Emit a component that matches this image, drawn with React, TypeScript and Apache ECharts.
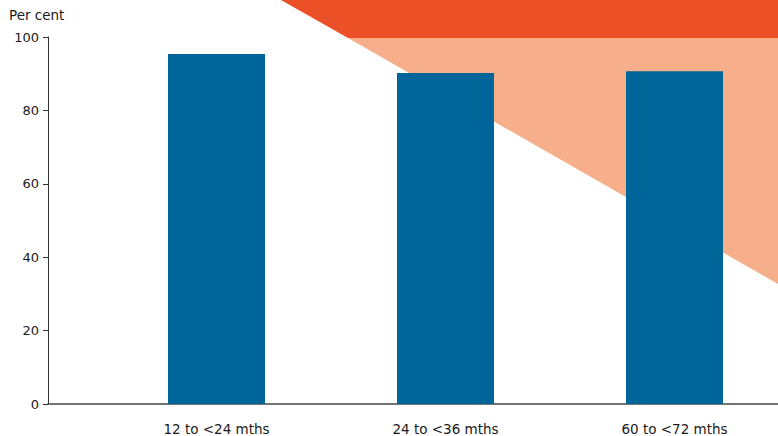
import React, { useEffect, useRef } from "react";
import * as echarts from "echarts";

const categories = ["12 to <24 mths", "24 to <36 mths", "60 to <72 mths"];
const positions = [1, 2, 3];
const values = [95.4, 90.2, 90.7];
const yTicks = [0, 20, 40, 60, 80, 100];

export default function App() {
  const ref = useRef<HTMLDivElement>(null);
  useEffect(() => {
    if (!ref.current) return;
    const chart = echarts.init(ref.current, null, { renderer: "svg" });
    const font = "'DejaVu Sans', sans-serif";
    chart.setOption({
      animation: false,
      backgroundColor: "#ffffff",
      title: {
        text: "Per cent",
        left: 4,
        top: 3,
        textStyle: { fontFamily: font, fontSize: 13.5, fontWeight: "normal", color: "#1a1a1a" },
      },
      graphic: [
        {
          type: "polygon",
          z: -10,
          shape: { points: [[281, 0], [778, 0], [778, 38], [348, 38]] },
          style: { fill: "#EB5026" },
          silent: true,
        },
        {
          type: "polygon",
          z: -10,
          shape: { points: [[348, 38], [778, 38], [778, 284]] },
          style: { fill: "#F7AF8B" },
          silent: true,
        },
      ],
      grid: { left: 48, right: 0, top: 37, bottom: 32, containLabel: false },
      xAxis: {
        type: "value",
        min: 0.2642,
        max: 3.452,
        splitLine: { show: false },
        axisTick: { show: false },
        axisLine: { show: true, lineStyle: { color: "#444", width: 1.5 } },
        axisLabel: {
          customValues: positions,
          formatter: (v: number) => categories[positions.indexOf(Math.round(v))] ?? "",
          fontFamily: font,
          fontSize: 13.5,
          color: "#1a1a1a",
          margin: 18,
          showMinLabel: true,
          showMaxLabel: true,
        },
      },
      yAxis: {
        type: "value",
        min: 0,
        max: 100,
        interval: 20,
        splitLine: { show: false },
        axisLine: { show: true, lineStyle: { color: "#333", width: 1 } },
        axisTick: { show: true, length: 5, lineStyle: { color: "#333" } },
        axisLabel: {
          fontFamily: font,
          fontSize: 13,
          color: "#1a1a1a",
          margin: 9,
          formatter: (v: number) => (yTicks.includes(v) ? String(v) : ""),
        },
      },
      series: [
        {
          type: "bar",
          data: positions.map((p, i) => [p, values[i]]),
          barWidth: 97,
          itemStyle: { color: "#00669A" },
          z: 2,
        },
      ],
    });
    return () => chart.dispose();
  }, []);
  return (
    <div
      ref={ref}
      style={{ position: "fixed", left: 0, top: 0, width: 778, height: 436 }}
    />
  );
}
